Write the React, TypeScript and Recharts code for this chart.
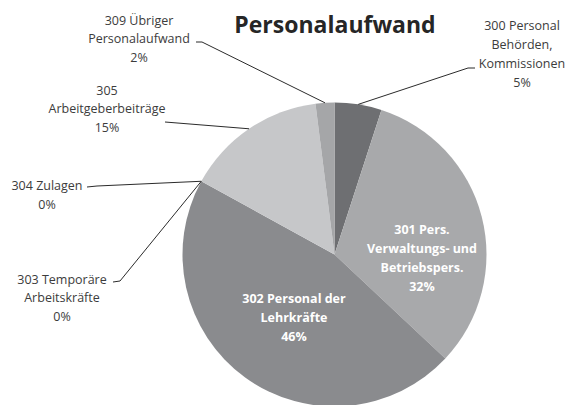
import React from "react";
import { PieChart, Pie, Cell } from "recharts";

// Personalaufwand – Anteile in %
const categories = [
  "300 Personal\nBehörden,\nKommissionen",
  "301 Pers.\nVerwaltungs- und\nBetriebspers.",
  "302 Personal der\nLehrkräfte",
  "303 Temporäre\nArbeitskräfte",
  "304 Zulagen",
  "305\nArbeitgeberbeiträge",
  "309 Übriger\nPersonalaufwand",
];
const shares = [5, 32, 46, 0, 0, 15, 2];
const colors = ["#6e6f72", "#a8a9ab", "#8a8b8e", "#8a8b8e", "#c6c7c9", "#c6c7c9", "#a5a6a8"];

const data = categories.map((name, i) => ({ name, value: shares[i] }));

// label placement: text centre + leader hook (null = inside label)
type LabelPos = { x: number; y: number; lh: number; inside?: boolean; hook?: number[][] };
const labelPos: LabelPos[] = [
  { x: 522, y: 25, lh: 19, hook: [[468, 68], [475, 68]] },
  { x: 422, y: 229, lh: 19.3, inside: true },
  { x: 294, y: 298, lh: 19, inside: true },
  { x: 62, y: 279, lh: 18.5, hook: [[120, 281], [113, 282]] },
  { x: 47, y: 185, lh: 19, hook: [[97, 186], [87, 187]] },
  { x: 107, y: 90, lh: 18.5, hook: [[165, 122]] },
  { x: 139, y: 20, lh: 18.5, hook: [[202, 42], [196, 42]] },
];

const RAD = Math.PI / 180;

function renderLabel(props: any) {
  const { cx, cy, midAngle, outerRadius, index, value } = props;
  const pos = labelPos[index];
  const lines = [...String(categories[index]).split("\n"), `${value}%`];
  if (pos.inside) {
    return (
      <text
        key={`l-${index}`}
        x={pos.x}
        y={pos.y}
        textAnchor="middle"
        fill="#ffffff"
        fontFamily="Open Sans"
        fontWeight="bold"
        fontSize={12.5}
      >
        {lines.map((t, i) => (
          <tspan key={i} x={pos.x} y={pos.y + i * pos.lh} dominantBaseline="central">
            {t}
          </tspan>
        ))}
      </text>
    );
  }
  const px = cx + outerRadius * Math.cos(-midAngle * RAD);
  const py = cy + outerRadius * Math.sin(-midAngle * RAD);
  const pts = [[px, py], ...(pos.hook || [])].map((p) => p.join(",")).join(" ");
  return (
    <g key={`l-${index}`}>
      <polyline points={pts} fill="none" stroke="#2b2b2b" strokeWidth={1} />
      <text x={pos.x} y={pos.y} textAnchor="middle" fill="#3c3c3c" fontFamily="Open Sans" fontSize={12.5}>
        {lines.map((t, i) => (
          <tspan key={i} x={pos.x} y={pos.y + i * pos.lh} dominantBaseline="central">
            {t}
          </tspan>
        ))}
      </text>
    </g>
  );
}

export default function App() {
  return (
    <div style={{ position: "absolute", left: 0, top: 0, width: 573, height: 405, background: "#fff", overflow: "hidden" }}>
      <div
        style={{
          position: "absolute",
          left: 0,
          width: 670,
          top: 9,
          textAlign: "center",
          fontFamily: "Open Sans",
          fontWeight: "bold",
          fontSize: 23,
          color: "#262626",
          lineHeight: "30px",
        }}
      >
        Personalaufwand
      </div>
      <PieChart
        width={573}
        height={405}
        margin={{ top: 0, right: 0, bottom: 0, left: 0 }}
        style={{ position: "absolute", left: 0, top: 0 }}
      >
        <Pie
          data={data}
          dataKey="value"
          nameKey="name"
          cx={334.5}
          cy={254.5}
          outerRadius={152}
          startAngle={90}
          endAngle={-270}
          stroke="none"
          label={renderLabel}
          labelLine={false}
          isAnimationActive={false}
        >
          {data.map((d, i) => (
            <Cell key={d.name} fill={colors[i]} />
          ))}
        </Pie>
      </PieChart>
    </div>
  );
}
